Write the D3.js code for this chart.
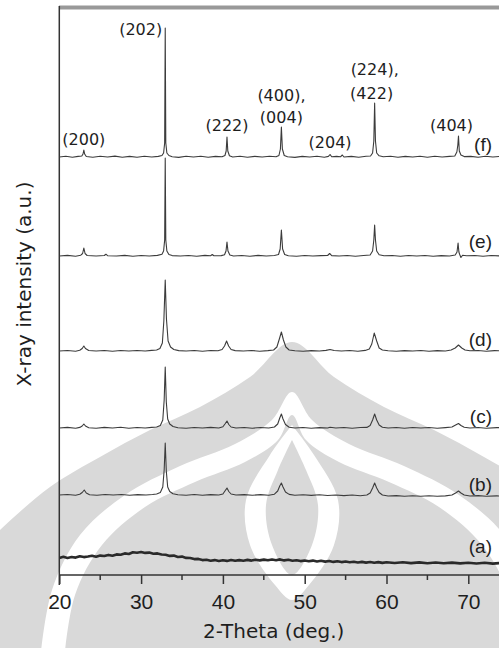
<!DOCTYPE html>
<html>
<head>
<meta charset="utf-8">
<script src="https://cdn.jsdelivr.net/npm/d3@7"></script>
<style>
  html, body { margin: 0; padding: 0; background: #fff; }
  svg { display: block; }
</style>
</head>
<body>
<div id="chart"></div>
<script>
// ---- data -------------------------------------------------------------
// X-ray diffraction patterns of six samples, (a)..(f), stacked vertically.
// Each pattern is a list of [2-theta (deg.), intensity (a.u.)],
// intensities measured from that pattern's own baseline.
const sampleNames = ["(a)", "(b)", "(c)", "(d)", "(e)", "(f)"];
const sampleOffsets = [12, 80, 147, 224, 319, 418];

const patternA = [
  [20,5.0],[20.5,6.2],[21,5.1],[21.5,6.0],[22,5.4],[22.5,6.8],[23,5.9],[23.5,6.5],[24,7.3],[24.5,6.2],
  [25,7.4],[25.5,7.0],[26,8.1],[26.5,7.2],[27,8.6],[27.5,8.3],[28,9.6],[28.5,9.0],[29,10.8],[29.5,10.2],
  [30,11.0],[30.5,10.1],[31,10.4],[31.5,9.3],[32,9.6],[32.5,8.5],[33,8.3],[33.5,7.1],[34,7.4],[34.5,6.0],
  [35,6.4],[35.5,5.1],[36,5.0],[36.5,3.9],[37,4.1],[37.5,2.9],[38,3.3],[38.5,2.2],[39,2.9],[39.5,2.0],
  [40,2.8],[40.5,2.1],[41,3.0],[41.5,2.2],[42,2.9],[42.5,2.3],[43,3.1],[43.5,2.4],[44,3.3],[44.5,2.6],
  [45,3.4],[45.5,2.7],[46,3.5],[46.5,2.8],[47,3.6],[47.5,2.6],[48,3.2],[48.5,2.3],[49,2.8],[49.5,1.9],
  [50,2.5],[50.5,1.7],[51,2.4],[51.5,1.5],[52,2.2],[52.5,1.4],[53,2.0],[53.5,1.1],[54,1.8],[54.5,0.9],
  [55,1.5],[55.5,0.7],[56,1.3],[56.5,0.5],[57,1.1],[57.5,0.4],[58,1.0],[58.5,0.2],[59,0.9],[59.5,0.1],
  [60,0.8],[61,0.0],[62,0.7],[63,-0.1],[64,0.6],[65,-0.2],[66,0.5],[67,-0.3],[68,0.4],[69,-0.4],
  [70,0.3],[71,-0.5],[72,0.2],[73,-0.6],[74,0.1],[75,-0.5],[76,0.1],[78,-0.4],[80,0.0]
];

const patternB = [
  [20,0],[21,0.5],[22,-0.2],[22.5,0.7],[22.8,2.5],[23.05,5],[23.3,2],[23.7,0.3],[24.6,-0.2],[25.6,0.5],
  [26.6,0],[27.6,0.5],[28.6,-0.3],[29.6,0.4],[30.6,0],[31.4,0.5],[31.9,1],[32.35,2.5],[32.65,8],[32.82,25],
  [32.95,52],[33.08,24],[33.25,8],[33.5,3.5],[33.9,1.2],[34.5,0.2],[35.5,-0.2],[36.5,0.5],[37.5,-0.3],[38.5,0.4],
  [39.5,0],[40,1],[40.25,4],[40.5,7],[40.72,3.5],[41,1],[41.6,0],[42.6,0.4],[43.6,-0.3],[44.6,0.4],
  [45.6,-0.2],[46.3,0.8],[46.7,4],[46.95,9],[47.15,12],[47.35,8],[47.65,3],[48.1,0.6],[48.8,-0.3],[49.8,0.3],
  [50.8,-0.4],[51.8,0.2],[52.8,-0.5],[53.8,0],[54.8,-0.6],[55.8,0],[56.8,-0.7],[57.6,0],[58,2],[58.3,7],
  [58.55,12],[58.8,7],[59.1,2.5],[59.5,0],[60.2,-1],[61.2,-0.6],[62.2,-1.2],[63.2,-0.8],[64.2,-1.2],[65.2,-0.8],
  [66.2,-1.3],[67.2,-0.9],[68,0],[68.45,2],[68.8,4],[69.1,2],[69.5,0],[70.2,-1],[71.2,-0.6],[72.2,-1.3],
  [73.5,-0.9],[75,-1.2],[77,-0.9],[80,-1.2]
];

const patternC = [
  [20,0],[21,0.6],[22,-0.2],[22.5,0.6],[22.8,2],[23.0,4],[23.2,2],[23.6,0.3],[24.5,-0.2],[25.5,0.6],
  [26.5,0],[27.5,0.7],[28.5,-0.2],[29.5,0.5],[30.5,0],[31.3,0.6],[31.9,1],[32.35,2.5],[32.65,8],[32.82,28],
  [32.95,61],[33.08,26],[33.25,9],[33.5,4],[33.9,1.5],[34.5,0.3],[35.5,-0.2],[36.5,0.5],[37.5,0],[38.5,0.6],
  [39.5,0],[40,1.2],[40.25,4],[40.5,7],[40.72,3.5],[41,1],[41.6,0],[42.6,0.5],[43.6,-0.2],[44.6,0.5],
  [45.6,0],[46.3,1],[46.7,4],[46.95,10],[47.15,14],[47.35,9],[47.65,3.5],[48.1,0.8],[48.8,0],[49.8,0.5],
  [50.8,-0.2],[51.8,0.4],[52.8,0],[53.1,0.8],[53.8,0],[54.8,0.5],[55.8,-0.2],[56.8,0.5],[57.6,0.6],[58,2.5],
  [58.3,8],[58.55,14],[58.8,8],[59.1,3],[59.5,0.8],[60.2,0],[61.2,0.5],[62.2,-0.2],[63.2,0.5],[64.2,0],
  [65.2,0.5],[66.2,-0.2],[67.2,0.4],[68,1],[68.45,3],[68.8,4.5],[69.1,2.5],[69.5,0.8],[70.2,0],[71.2,0.5],
  [72.2,-0.2],[73.5,0.4],[75,0],[77,0.4],[80,0]
];

const patternD = [
  [20,0],[21,0.5],[22,-0.2],[22.5,0.7],[22.8,2.5],[23.0,5],[23.2,2.5],[23.6,0.5],[24.5,0],[25.5,0.5],
  [26.5,-0.2],[27.5,0.5],[28.5,0],[29.5,0.5],[30.5,0],[31.3,0.6],[31.9,1],[32.3,2.5],[32.6,8],[32.78,30],
  [32.95,71],[33.1,32],[33.3,10],[33.6,4],[34,1.5],[34.6,0.4],[35.5,0],[36.5,0.5],[37.5,-0.2],[38.5,0.5],
  [39.4,0.3],[39.9,1.5],[40.2,5],[40.45,10],[40.7,5],[41,1.5],[41.5,0.4],[42.5,0],[43.5,0.5],[44.5,-0.2],
  [45.5,0.4],[46.2,1],[46.6,4],[46.9,12],[47.15,19],[47.4,11],[47.7,4],[48.1,1],[48.8,0.2],[49.8,-0.2],
  [50.8,0.4],[51.8,0],[52.6,0.6],[53.1,1.5],[53.6,0.5],[54.5,0],[55.5,0.5],[56.5,-0.2],[57.4,0.6],[57.9,2],
  [58.2,7],[58.5,18],[58.8,10],[59.1,3],[59.5,1],[60.2,0.2],[61.2,-0.2],[62.2,0.4],[63.2,0],[64.2,0.5],
  [65.2,-0.2],[66.2,0.4],[67.2,0],[67.9,1],[68.4,3],[68.8,6],[69.2,3],[69.6,1],[70.2,0.2],[71.2,0.5],
  [72.2,-0.2],[73.2,0.4],[75,0],[77,0.4],[80,0]
];

const patternE = [
  [20,0],[21,0.6],[22,-0.2],[22.6,0.7],[22.85,2.5],[23.0,8],[23.15,2.5],[23.4,0.5],[24.5,0],[25.5,0.5],
  [25.7,1.8],[25.9,0.3],[27,0],[28,0.6],[29,-0.2],[30,0.5],[31,0],[32,0.6],[32.55,1.8],[32.75,5],
  [32.88,16],[32.95,98],[33.02,16],[33.15,5],[33.4,1.5],[33.8,0.4],[34.8,0],[35.8,0.5],[36.8,-0.2],[37.8,0.6],
  [38.5,0.3],[38.7,1.5],[38.9,0.2],[39.8,0.4],[40.2,1.2],[40.38,5],[40.5,14],[40.62,5],[40.85,1],[41.3,0],
  [42.3,0.5],[43.3,-0.2],[44.3,0.6],[45.3,0],[46.3,0.5],[46.8,1.5],[47.0,7],[47.15,26],[47.3,7],[47.55,1.5],
  [48,0.2],[49,-0.2],[50,0.5],[51,0],[52,0.4],[52.8,0.5],[53.05,2.5],[53.3,0.4],[54.2,0],[55.2,0.5],
  [56.2,-0.2],[57.2,0.5],[58,1],[58.3,5],[58.45,16],[58.55,31],[58.65,16],[58.8,5],[59.1,1.2],[59.7,0.2],
  [60.7,0.5],[61.7,-0.2],[62.7,0.5],[63.7,0],[64.7,0.5],[65.7,-0.2],[66.7,0.4],[67.7,0],[68.4,1],[68.62,4],
  [68.75,13],[68.85,4],[68.95,1.5],[69.1,-1.5],[69.3,0.8],[69.8,0.2],[70.8,0.5],[71.8,-0.2],[72.8,0.5],[74,0],
  [76,0.4],[78,0],[80,0.2]
];

const patternF = [
  [20,0],[20.8,0.8],[21.6,-0.3],[22.3,0.6],[22.75,1],[22.9,3],[23.0,7],[23.1,3],[23.3,0.5],[24.1,-0.2],
  [25,0.7],[25.9,0],[26.8,0.9],[27.7,-0.2],[28.6,0.6],[29.5,-0.3],[30.4,0.8],[31.3,0],[32.1,0.6],[32.55,1.5],
  [32.75,4],[32.88,14],[32.95,129],[33.02,14],[33.15,4],[33.4,1.5],[33.8,0.3],[34.6,-0.4],[35.5,0.7],[36.4,0],
  [37.3,0.8],[38.2,-0.2],[39.1,0.6],[39.9,0.2],[40.25,1.5],[40.4,6],[40.5,20],[40.6,6],[40.8,1.2],[41.2,0],
  [42.1,0.7],[43,-0.3],[43.9,0.6],[44.8,0],[45.7,0.8],[46.5,0.2],[46.85,1.5],[47.03,8],[47.15,30],[47.27,8],
  [47.5,1.5],[47.9,0.2],[48.8,-0.4],[49.7,0.6],[50.6,0],[51.5,0.7],[52.4,-0.2],[52.9,0.6],[53.1,2.5],[53.3,0.2],
  [53.9,0.6],[54.4,0.3],[54.6,2],[54.8,0],[55.7,0.6],[56.6,-0.3],[57.5,0.7],[58.05,1],[58.3,4],[58.45,16],
  [58.55,54],[58.65,16],[58.8,4],[59.1,1.2],[59.6,0.2],[60.5,0.7],[61.4,-0.3],[62.3,0.6],[63.2,0],[64.1,0.8],
  [65,-0.2],[65.9,0.7],[66.8,0],[67.7,0.6],[68.35,1],[68.6,5],[68.72,12],[68.8,21],[68.9,6],[69.1,2],
  [69.5,0.4],[70.3,0.6],[71.2,-0.3],[72.1,0.7],[73,0],[73.9,0.6],[74.8,-0.2],[76,0.5],[78,0],[80,0.3]
];

const patterns = [patternA, patternB, patternC, patternD, patternE, patternF];

// Miller indices of the indexed reflections and their 2-theta positions
const hklLabels = ["(200)", "(202)", "(222)", "(400),", "(004)", "(204)", "(224),", "(422)", "(404)"];
const hklAngles = [23.0, 32.95, 40.5, 47.15, 47.15, 53.1, 58.55, 58.55, 68.8];

const xTickValues = [20, 30, 40, 50, 60, 70];
const xMinorTicks = [25, 35, 45, 55, 65, 75];

// ---- layout -----------------------------------------------------------
const W = 499, H = 648;
const svg = d3.select("#chart").append("svg")
  .attr("width", W).attr("height", H)
  .attr("viewBox", `0 0 ${W} ${H}`)
  .style("overflow", "hidden");

const x = d3.scaleLinear().domain([20, 80]).range([59.3, 550.1]);
const y = d3.scaleLinear().domain([0, 567]).range([575, 8]);

// ---- faint emblem in the background --------------------------------------
const emblem = svg.append("g").attr("class", "emblem");
const smooth = d3.line().curve(d3.curveCatmullRom.alpha(0.5));
function ogee(pts, bottom) {
  // closes a symmetric arch outline down to the bottom edge
  const first = pts[0], last = pts[pts.length - 1];
  return smooth(pts) + `L${last[0]},${bottom}L${first[0]},${bottom}Z`;
}
const wmGray = "#d9d9d9";
emblem.append("path").attr("fill", wmGray).attr("d", ogee([
  [-30, 560], [0, 530], [50, 487], [100, 457], [150, 430], [200, 407], [250, 377], [292, 342],
  [334, 377], [384, 407], [434, 430], [484, 457], [534, 487], [584, 530], [614, 560]
], 660));
emblem.append("path").attr("fill", "#fff").attr("d", ogee([
  [40, 660], [52, 590], [80, 535], [125, 495], [180, 466], [235, 444], [272, 420], [292, 392],
  [312, 420], [349, 444], [404, 466], [459, 495], [504, 535], [532, 590], [544, 660]
], 660));
emblem.append("path").attr("fill", wmGray).attr("d", ogee([
  [64, 660], [75, 595], [102, 545], [145, 507], [195, 482], [245, 462], [278, 440], [292, 415],
  [306, 440], [339, 462], [389, 482], [439, 507], [482, 545], [509, 595], [520, 660]
], 660));
emblem.append("path").attr("fill", "#fff").attr("d", smooth([
  [292, 425], [270, 455], [246, 500], [250, 545], [275, 585], [292, 600],
  [309, 585], [334, 545], [338, 500], [314, 455], [292, 425]
]) + "Z");
emblem.append("path").attr("fill", wmGray).attr("d", smooth([
  [292, 440], [278, 470], [266, 505], [272, 545], [292, 575],
  [312, 545], [318, 505], [306, 470], [292, 440]
]) + "Z");

// ---- frame ------------------------------------------------------------
svg.append("line")
  .attr("x1", 59).attr("x2", W).attr("y1", 7.5).attr("y2", 7.5)
  .attr("stroke", "#999").attr("stroke-width", 4);
svg.append("line")
  .attr("x1", x(20)).attr("x2", x(20)).attr("y1", 6).attr("y2", 585)
  .attr("stroke", "#333").attr("stroke-width", 1.5);

// ---- x axis -----------------------------------------------------------
const xAxis = d3.axisBottom(x).tickValues(xTickValues).tickSize(9).tickPadding(10)
  .tickFormat(d3.format("d"));
const gx = svg.append("g").attr("transform", `translate(0,${y(0)})`).call(xAxis);
gx.select(".domain").remove();
gx.selectAll(".tick line").attr("stroke", "#333").attr("stroke-width", 1.5);
gx.selectAll(".tick text")
  .attr("fill", "#1e1e1e")
  .style("font-family", "'Liberation Sans', Arial, sans-serif")
  .style("font-size", "21px");
gx.append("line").attr("x1", x(20)).attr("x2", W).attr("y1", 0).attr("y2", 0)
  .attr("stroke", "#333").attr("stroke-width", 1.5);
gx.selectAll(".minor").data(xMinorTicks).enter().append("line")
  .attr("class", "minor")
  .attr("x1", d => x(d)).attr("x2", d => x(d))
  .attr("y1", 0).attr("y2", 5)
  .attr("stroke", "#333").attr("stroke-width", 1.5);

// ---- axis titles ------------------------------------------------------
svg.append("text")
  .attr("x", 273.7).attr("y", 638)
  .attr("text-anchor", "middle")
  .attr("fill", "#1e1e1e")
  .style("font-family", "'DejaVu Sans', sans-serif")
  .style("font-size", "20px")
  .text("2-Theta (deg.)");
svg.append("text")
  .attr("transform", "translate(30.5,284) rotate(-90)")
  .attr("text-anchor", "middle")
  .attr("fill", "#1e1e1e")
  .style("font-family", "'DejaVu Sans', sans-serif")
  .style("font-size", "20px")
  .text("X-ray intensity (a.u.)");

// ---- patterns ---------------------------------------------------------
svg.append("clipPath").attr("id", "plot-clip")
  .append("rect").attr("x", x(20)).attr("y", 9).attr("width", W - x(20)).attr("height", y(0) - 9);

const plot = svg.append("g").attr("clip-path", "url(#plot-clip)");
patterns.forEach((pts, i) => {
  const off = sampleOffsets[i];
  const line = d3.line()
    .x(d => x(d[0]))
    .y(d => y(off + d[1]));
  plot.append("path")
    .attr("d", line(pts))
    .attr("fill", "none")
    .attr("stroke", i === 0 ? "#2a2a2a" : "#3c3c3c")
    .attr("stroke-width", i === 0 ? 2.6 : 1.1)
    .attr("stroke-linejoin", "round");
});

// sample labels at the right end of each pattern
const sampleLabelY = [547, 485, 417, 340, 241.5, 144.5];
svg.selectAll(".sample-label").data(sampleNames).enter().append("text")
  .attr("class", "sample-label")
  .attr("x", 492)
  .attr("y", (d, i) => sampleLabelY[i] + 6)
  .attr("text-anchor", "end")
  .attr("fill", "#1e1e1e")
  .style("font-family", "'Liberation Sans', Arial, sans-serif")
  .style("font-size", "19px")
  .text(d => d);

// reflection labels above the top pattern
const hklLayout = [
  { dx: 0,   yy: 144.5, anchor: "middle" },
  { dx: -3,  yy: 35,    anchor: "end" },
  { dx: 0,   yy: 131,   anchor: "middle" },
  { dx: -24, yy: 100.5, anchor: "start" },
  { dx: 0,   yy: 122.5, anchor: "middle" },
  { dx: 0,   yy: 147.5, anchor: "middle" },
  { dx: -24, yy: 74.5,  anchor: "start" },
  { dx: -3,  yy: 98.5,  anchor: "middle" },
  { dx: -7,  yy: 131,   anchor: "middle" }
];
svg.selectAll(".hkl").data(hklLabels).enter().append("text")
  .attr("class", "hkl")
  .attr("x", (d, i) => x(hklAngles[i]) + hklLayout[i].dx)
  .attr("y", (d, i) => hklLayout[i].yy)
  .attr("text-anchor", (d, i) => hklLayout[i].anchor)
  .attr("fill", "#1e1e1e")
  .style("font-family", "'DejaVu Sans', sans-serif")
  .style("font-size", "16px")
  .text(d => d);
</script>
</body>
</html>
